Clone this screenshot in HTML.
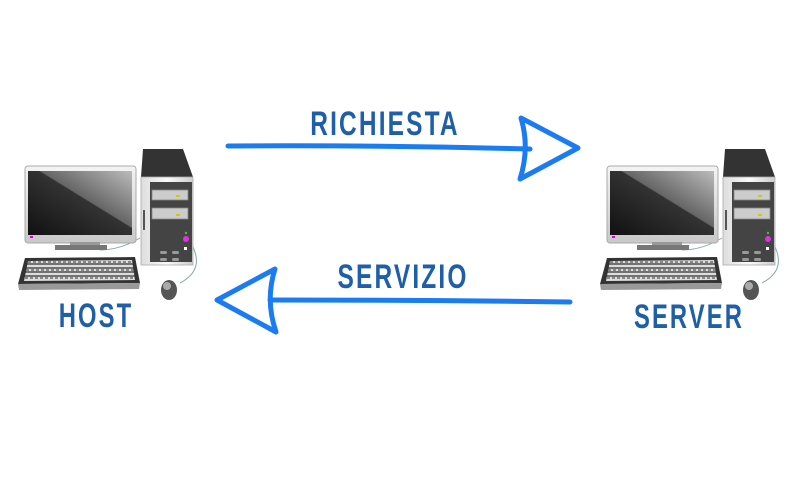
<!DOCTYPE html>
<html><head><meta charset="utf-8"><style>
html,body{margin:0;padding:0;background:#fff;}
svg{display:block;}
text{font-family:"Liberation Sans Narrow","Liberation Sans",sans-serif;font-weight:bold;fill:#1f5fa8;}
</style></head><body>
<svg width="800" height="500" viewBox="0 0 800 500" xmlns="http://www.w3.org/2000/svg">
<defs>
<linearGradient id="scr" x1="0" y1="1" x2="1" y2="0">
<stop offset="0" stop-color="#111"/><stop offset="0.55" stop-color="#333"/><stop offset="0.56" stop-color="#666"/><stop offset="1" stop-color="#bbb"/>
</linearGradient>
<linearGradient id="frm" x1="0" y1="0" x2="0" y2="1"><stop offset="0" stop-color="#f4f4f4"/><stop offset="1" stop-color="#c8c8c8"/></linearGradient>
<linearGradient id="twr" x1="0" y1="0" x2="1" y2="0"><stop offset="0" stop-color="#ddd"/><stop offset="0.5" stop-color="#fafafa"/><stop offset="1" stop-color="#ccc"/></linearGradient>
<g id="pc">
 <path d="M100 250 Q120 250 140 238" stroke="#8aa" stroke-width="1" fill="none"/>
 <path d="M192 245 Q205 270 180 283" stroke="#8aa" stroke-width="1" fill="none"/>
 <rect x="25" y="166" width="111" height="77" rx="3" fill="url(#frm)" stroke="#aaa" stroke-width="1"/>
 <rect x="28" y="171" width="104" height="64" fill="url(#scr)"/>
 <rect x="30" y="236" width="3" height="2" fill="#d0d"/>
 <rect x="70" y="242" width="30" height="4" fill="#999"/>
 <rect x="55" y="245" width="52" height="5" fill="#777"/>
 <path d="M143 149 L183 149 L193 177 L141 177 Z" fill="#333"/>
 <rect x="141" y="177" width="52" height="88" fill="url(#twr)" stroke="#aaa" stroke-width="0.8"/>
 <rect x="150" y="182" width="42" height="80" fill="#444"/>
 <rect x="152" y="190" width="36" height="10" fill="#ccc" stroke="#888" stroke-width="0.8"/>
 <rect x="152" y="208" width="36" height="11" fill="#ccc" stroke="#888" stroke-width="0.8"/>
 <rect x="176" y="195" width="4" height="2" fill="#cc0"/>
 <rect x="176" y="214" width="4" height="2" fill="#cc0"/>
 <circle cx="186" cy="239" r="3" fill="#d3d"/>
 <circle cx="186" cy="233" r="1.2" fill="#3c3"/>
 <rect x="184" y="247" width="3" height="3" fill="#fff"/>
 <rect x="160" y="251" width="7" height="3" rx="1.5" fill="#999"/>
 <rect x="172" y="251" width="7" height="3" rx="1.5" fill="#999"/>
 <rect x="160" y="258" width="7" height="3" rx="1.5" fill="#999"/>
 <rect x="172" y="258" width="7" height="3" rx="1.5" fill="#999"/>
 <rect x="143" y="210" width="2" height="20" fill="#555"/>
 <path d="M25 258 L135 257 L140 283 L18 284 Z" fill="#333"/>
 <path d="M18 284 L140 283 L139 289 L19 290 Z" fill="#999"/>
 <path d="M28 261 L132 260 L135 280 L24 281 Z" fill="#ddd"/>
 <g stroke="#333" stroke-width="1.2">
  <line x1="27" y1="264" x2="134" y2="264"/><line x1="26" y1="268" x2="134" y2="268"/>
  <line x1="25" y1="272" x2="135" y2="272"/><line x1="25" y1="276" x2="135" y2="276"/>
 </g>
 <g stroke="#333" stroke-width="1" stroke-dasharray="3 2">
  <line x1="28" y1="262" x2="133" y2="262"/><line x1="26" y1="270" x2="134" y2="270"/><line x1="25" y1="278" x2="135" y2="278"/>
 </g>
 <ellipse cx="169" cy="290" rx="8" ry="10" fill="#555"/>
 <ellipse cx="167" cy="286" rx="4" ry="4" fill="#aaa"/>
</g>
</defs>
<use href="#pc"/>
<use href="#pc" transform="translate(582,0)"/>

<g fill="none" stroke="#1a7cf0" stroke-linecap="round" stroke-linejoin="round">
 <path d="M228 146 Q380 145 530 149" stroke-width="5"/>
 <path d="M521 118 L578 148 L520 179 Q530 148 521 118 Z" stroke-width="5"/>
 <path d="M570 302 Q420 300 270 300" stroke-width="5"/>
 <path d="M275 269 L217 300 L276 332 Q265 300 275 269 Z" stroke-width="5"/>
</g>

<text transform="translate(385,135) scale(0.72,1)" font-size="34" text-anchor="middle" letter-spacing="3">RICHIESTA</text>
<text transform="translate(403,288) scale(0.72,1)" font-size="34" text-anchor="middle" letter-spacing="3">SERVIZIO</text>
<text transform="translate(96,327) scale(0.7,1)" font-size="34" text-anchor="middle" letter-spacing="3">HOST</text>
<text transform="translate(689,328) scale(0.7,1)" font-size="34" text-anchor="middle" letter-spacing="3">SERVER</text>
</svg>
</body></html>
